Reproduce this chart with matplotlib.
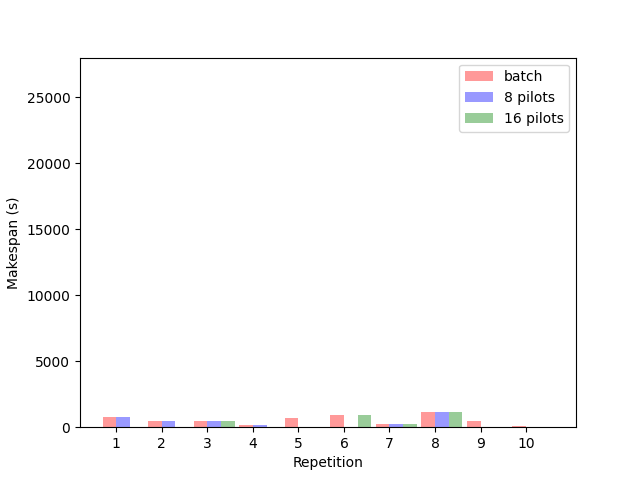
import numpy as np
import matplotlib
matplotlib.use("Agg")
import matplotlib.pyplot as plt

repetitions = np.arange(1, 11)
batch = [760, 450, 450, 150, 680, 900, 230, 1130, 450, 70]
pilots_8 = [760, 450, 450, 150, 0, 0, 230, 1130, 0, 0]
pilots_16 = [0, 0, 450, 0, 0, 900, 230, 1130, 0, 0]

width = 0.3
fig, ax = plt.subplots(figsize=(6.4, 4.8), dpi=100)
ax.bar(repetitions - width, batch, width, align='edge', color='r', alpha=0.4, label='batch')
ax.bar(repetitions, pilots_8, width, align='edge', color='b', alpha=0.4, label='8 pilots')
ax.bar(repetitions + width, pilots_16, width, align='edge', color='g', alpha=0.4, label='16 pilots')

ax.set_xticks(repetitions)
ax.set_ylim(0, 28000)
ax.set_xlabel('Repetition')
ax.set_ylabel('Makespan (s)')
ax.legend()

fig.savefig('out.png')
